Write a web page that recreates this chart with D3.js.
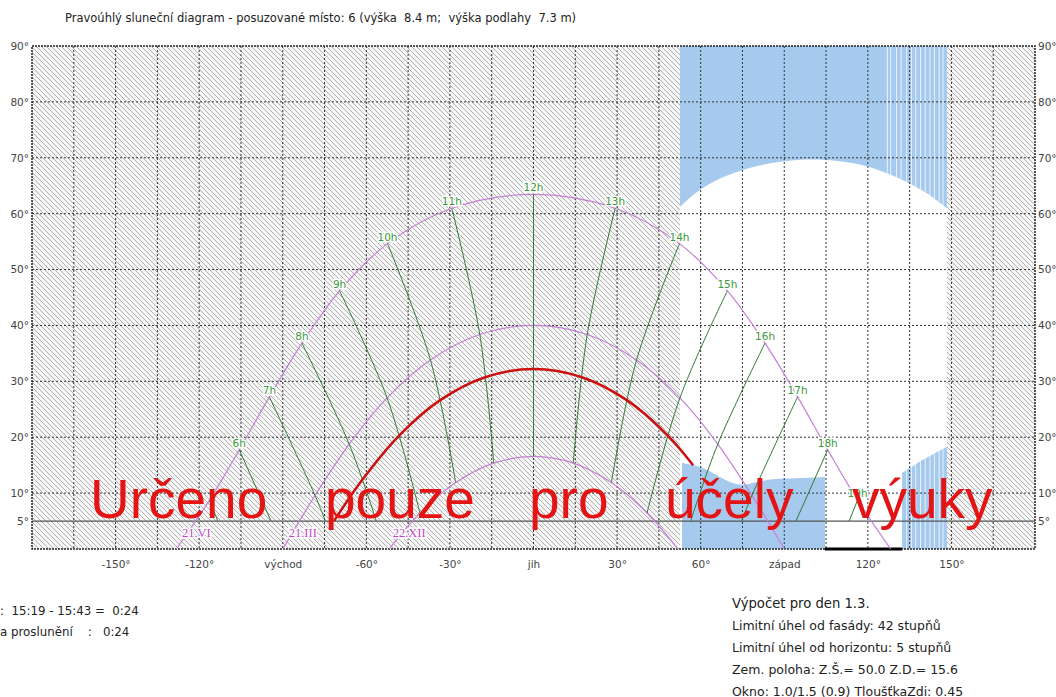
<!DOCTYPE html>
<html>
<head>
<meta charset="utf-8">
<script src="https://cdnjs.cloudflare.com/ajax/libs/d3/7.8.5/d3.min.js"></script>
<style>
body { margin: 0; background: #fff; }
</style>
</head>
<body>
<svg width="1056" height="697"></svg>
<script>
// axis ticks
var yTicks = [5, 10, 20, 30, 40, 50, 60, 70, 80, 90];
var xTicks = [-150, -120, -90, -60, -30, 0, 30, 60, 90, 120, 150];
var xTickNames = {"-90": "východ", "0": "jih", "90": "západ"};

// sun paths, [azimuth, altitude]
var pathVI = [[-128.2, 0], [-116.3, 8.74], [-105.6, 17.74], [-94.8, 27.22], [-83.1, 36.84], [-69.6, 46.2],
  [-52.4, 54.64], [-29.3, 60.96], [0, 63.44], [29.3, 60.96], [52.4, 54.64], [69.6, 46.2], [83.1, 36.84],
  [94.8, 27.22], [105.6, 17.74], [116.3, 8.74], [128.2, 0]];
var pathIII = [[-90, 0], [-78.4, 9.58], [-66.14, 18.75], [-52.55, 27.03], [-37.0, 33.83], [-19.28, 38.38], [0, 40],
  [19.28, 38.38], [37.0, 33.83], [52.55, 27.03], [66.14, 18.75], [78.4, 9.58], [90, 0]];
var pathXII = [[-51.8, 0], [-40.76, 6.45], [-27.95, 11.89], [-14.26, 15.37], [0, 16.56],
  [14.26, 15.37], [27.95, 11.89], [40.76, 6.45], [51.8, 0]];
var path13 = [[-71.6, 5], [-61.46, 12.38], [-48.31, 20.26], [-33.64, 26.59], [-17.36, 30.74], [0, 32.2],
  [17.36, 30.74], [33.64, 26.59], [48.31, 20.26], [57.3, 15.0]];

var dateNames = ["21.VI", "21.III", "22.XII"];
var dateRise = [-128.2, -90, -51.8];

// hour lines (21.VI -> 21.III -> 22.XII or horizon limit)
var hourNames = ["5h", "6h", "7h", "8h", "9h", "10h", "11h", "12h", "13h", "14h", "15h", "16h", "17h", "18h", "19h"];
var hourLines = [
  [[-116.3, 8.74], [-113.3, 5]],
  [[-105.6, 17.74], [-94.2, 5]],
  [[-94.8, 27.22], [-78.4, 9.58], [-74.7, 5]],
  [[-83.1, 36.84], [-66.14, 18.75], [-56.4, 5]],
  [[-69.6, 46.2], [-52.55, 27.03], [-40.76, 6.45]],
  [[-52.4, 54.64], [-37.0, 33.83], [-27.95, 11.89]],
  [[-29.3, 60.96], [-19.28, 38.38], [-14.26, 15.37]],
  [[0, 63.44], [0, 40], [0, 16.56]],
  [[29.3, 60.96], [19.28, 38.38], [14.26, 15.37]],
  [[52.4, 54.64], [37.0, 33.83], [27.95, 11.89]],
  [[69.6, 46.2], [52.55, 27.03], [40.76, 6.45]],
  [[83.1, 36.84], [66.14, 18.75], [56.4, 5]],
  [[94.8, 27.22], [78.4, 9.58], [74.7, 5]],
  [[105.6, 17.74], [94.2, 5]],
  [[116.3, 8.74], [113.3, 5]]
];

// shaded (out of range) azimuths
var hatchRanges = [[-180, 52.6], [148.4, 180]];
// obstructions
var blueTop = [[52.6, 61.2], [58, 63.6], [65, 65.8], [75, 67.8], [85, 69.0], [95, 69.6], [105, 69.6],
  [115, 69.0], [125, 67.6], [135, 65.4], [142, 63.4], [148.4, 61.0]];
var blueLow1 = [[53.3, 15.4], [59.8, 14.7], [66.9, 12.9], [71.6, 11.8], [75.2, 11.5], [80.2, 12.0],
  [86.0, 12.5], [95.7, 12.7], [104.6, 12.9]];
var blueLow2 = [[132.3, 13.6], [140, 16.0], [148.4, 18.3]];
var stripeAz = [127.0, 128.2, 130.3, 131.9, 133.9, 135.7, 137.2, 138.9, 140.6, 142.3, 143.9, 145.6, 147.0];
var openBottom = [104.6, 132.3];

var title = "Pravoúhlý sluneční diagram - posuzované místo: 6 (výška  8.4 m;  výška podlahy  7.3 m)";
var infoLeft = [":  15:19 - 15:43 =  0:24", "a proslunění    :   0:24"];
var infoRight = ["Výpočet pro den 1.3.", "Limitní úhel od fasády: 42 stupňů", "Limitní úhel od horizontu: 5 stupňů",
  "Zem. poloha: Z.Š.= 50.0 Z.D.= 15.6", "Okno: 1.0/1.5 (0.9) TloušťkaZdi: 0.45"];
var watermark = ["Určeno", "pouze", "pro", "účely", "výuky"];

var svg = d3.select("svg");
var pL = 32, pR = 1035, pT = 46, pB = 549;
var font = "DejaVu Sans, Verdana, sans-serif";

var x = d3.scaleLinear().domain([-180, 180]).range([pL, pR]);
var y = d3.scaleLinear().domain([0, 90]).range([pB, pT]);

var defs = svg.append("defs");
var pat = defs.append("pattern")
    .attr("id", "hatch")
    .attr("patternUnits", "userSpaceOnUse")
    .attr("width", 5).attr("height", 5);
pat.append("rect").attr("width", 5).attr("height", 5).attr("fill", "#f6f6f6");
pat.append("path")
    .attr("d", "M-1,-1 L6,6 M-1,4 L1,6 M4,-1 L6,1")
    .attr("stroke", "#a9a9a9")
    .attr("stroke-width", 0.9);

svg.append("rect").attr("width", 1056).attr("height", 697).attr("fill", "#fff");

// hatched areas
svg.selectAll(".hatch")
  .data(hatchRanges)
  .enter().append("rect")
    .attr("x", function(d) { return x(d[0]); })
    .attr("y", y(90))
    .attr("width", function(d) { return x(d[1]) - x(d[0]); })
    .attr("height", y(0) - y(90))
    .attr("fill", "url(#hatch)");

// blue obstructions
var areaTop = d3.area()
    .x(function(d) { return x(d[0]); })
    .y0(y(90))
    .y1(function(d) { return y(d[1]); })
    .curve(d3.curveCatmullRom);
var areaLow = d3.area()
    .x(function(d) { return x(d[0]); })
    .y0(y(0))
    .y1(function(d) { return y(d[1]); })
    .curve(d3.curveCatmullRom);

var blueShapes = [areaTop(blueTop), areaLow(blueLow1), areaLow(blueLow2)];
var clip = defs.append("clipPath").attr("id", "blueclip");
blueShapes.forEach(function(p) { clip.append("path").attr("d", p); });

svg.selectAll(".blue")
  .data(blueShapes)
  .enter().append("path")
    .attr("d", function(d) { return d; })
    .attr("fill", "#a6c9ee");

svg.append("g")
    .attr("clip-path", "url(#blueclip)")
  .selectAll("line")
  .data(stripeAz)
  .enter().append("line")
    .attr("x1", function(d) { return x(d); })
    .attr("x2", function(d) { return x(d); })
    .attr("y1", y(90)).attr("y2", y(0))
    .attr("stroke", "#e8f1fb")
    .attr("stroke-width", 1);

// grid
var gx = d3.range(-165, 180, 15), gy = d3.range(10, 90, 10);
svg.selectAll(".gx")
  .data(gx)
  .enter().append("line")
    .attr("x1", function(d) { return x(d); })
    .attr("x2", function(d) { return x(d); })
    .attr("y1", y(90)).attr("y2", y(0))
    .attr("stroke", "#333")
    .attr("stroke-dasharray", "2,2");
svg.selectAll(".gy")
  .data(gy)
  .enter().append("line")
    .attr("x1", pL).attr("x2", pR)
    .attr("y1", function(d) { return y(d); })
    .attr("y2", function(d) { return y(d); })
    .attr("stroke", "#333")
    .attr("stroke-dasharray", "2,2");

// horizon limit 5°
svg.append("line")
    .attr("x1", pL).attr("x2", pR)
    .attr("y1", y(5)).attr("y2", y(5))
    .attr("stroke", "#555")
    .attr("stroke-width", 1.2);

svg.append("rect")
    .attr("x", pL).attr("y", pT)
    .attr("width", pR - pL).attr("height", pB - pT)
    .attr("fill", "none")
    .attr("stroke", "#222")
    .attr("stroke-width", 1.5)
    .attr("stroke-dasharray", "2,1");

svg.append("line")
    .attr("x1", x(openBottom[0])).attr("x2", x(openBottom[1]))
    .attr("y1", y(0)).attr("y2", y(0))
    .attr("stroke", "#000")
    .attr("stroke-width", 3);

// sun paths
var line = d3.line()
    .x(function(d) { return x(d[0]); })
    .y(function(d) { return y(d[1]); })
    .curve(d3.curveCatmullRom);

svg.selectAll(".path")
  .data([pathVI, pathIII, pathXII])
  .enter().append("path")
    .attr("d", line)
    .attr("fill", "none")
    .attr("stroke", "#c67fd6")
    .attr("stroke-width", 1.2);

svg.selectAll(".hour")
  .data(hourLines)
  .enter().append("path")
    .attr("d", line)
    .attr("fill", "none")
    .attr("stroke", "#2f7a34")
    .attr("stroke-width", 1);

svg.append("path")
    .attr("d", line(path13))
    .attr("fill", "none")
    .attr("stroke", "#cc1010")
    .attr("stroke-width", 2.5);

// hour labels
svg.selectAll(".hl")
  .data(hourLines.slice(1))
  .enter().append("text")
    .attr("x", function(d) { return x(d[0][0]); })
    .attr("y", function(d) { return y(d[0][1]) - 3; })
    .attr("text-anchor", "middle")
    .style("font-family", font)
    .attr("font-size", 10.5)
    .attr("fill", "#3a983a")
    .attr("stroke", "#fff")
    .attr("stroke-width", 3)
    .attr("paint-order", "stroke")
    .text(function(d, i) { return hourNames[i + 1]; });

// date labels
svg.selectAll(".dl")
  .data(dateNames)
  .enter().append("text")
    .attr("x", function(d, i) { return x(dateRise[i]) + 20; })
    .attr("y", y(0) - 12)
    .attr("text-anchor", "middle")
    .style("font-family", "Liberation Serif, serif")
    .attr("font-size", 12.5)
    .attr("fill", "#c444c8")
    .attr("stroke", "#fff")
    .attr("stroke-width", 3)
    .attr("paint-order", "stroke")
    .text(function(d) { return d; });

// axes
var yl = svg.append("g").attr("transform", "translate(" + pL + ",0)")
    .call(d3.axisLeft(y).tickValues(yTicks).tickSize(0).tickPadding(3).tickFormat(function(d) { return d + "°"; }));
var yr = svg.append("g").attr("transform", "translate(" + pR + ",0)")
    .call(d3.axisRight(y).tickValues(yTicks).tickSize(0).tickPadding(3).tickFormat(function(d) { return d + "°"; }));
var xb = svg.append("g").attr("transform", "translate(0," + pB + ")")
    .call(d3.axisBottom(x).tickValues(xTicks).tickSize(0).tickPadding(12)
      .tickFormat(function(d) { return xTickNames[d] || (d + "°"); }));
[yl, yr, xb].forEach(function(g) {
  g.select(".domain").remove();
  g.attr("font-family", null).attr("font-size", null);
  g.selectAll("text")
    .style("font-family", font)
    .attr("font-size", 10.5)
    .attr("fill", "#444");
});

// watermark
var wmX = [90, 325, 529, 665, 852];
svg.selectAll(".wm")
  .data(watermark)
  .enter().append("text")
    .attr("x", function(d, i) { return wmX[i]; })
    .attr("y", 518)
    .style("font-family", "Liberation Sans, Arial, sans-serif")
    .attr("font-size", 55)
    .attr("fill", "#e51414")
    .text(function(d) { return d; });

// texts
svg.append("text")
    .attr("x", 65).attr("y", 22)
    .style("font-family", font)
    .attr("font-size", 11.5)
    .attr("fill", "#222")
    .style("white-space", "pre")
    .text(title);

svg.selectAll(".il")
  .data(infoLeft)
  .enter().append("text")
    .attr("x", 0)
    .attr("y", function(d, i) { return 615 + i * 21; })
    .style("font-family", font)
    .attr("font-size", 11.8)
    .attr("fill", "#222")
    .style("white-space", "pre")
    .text(function(d) { return d; });

svg.selectAll(".ir")
  .data(infoRight)
  .enter().append("text")
    .attr("x", 732)
    .attr("y", function(d, i) { return 608 + i * 22; })
    .style("font-family", font)
    .attr("font-size", function(d, i) { return i == 0 ? 13.2 : 12.5; })
    .attr("fill", "#222")
    .text(function(d) { return d; });
</script>
</body>
</html>
